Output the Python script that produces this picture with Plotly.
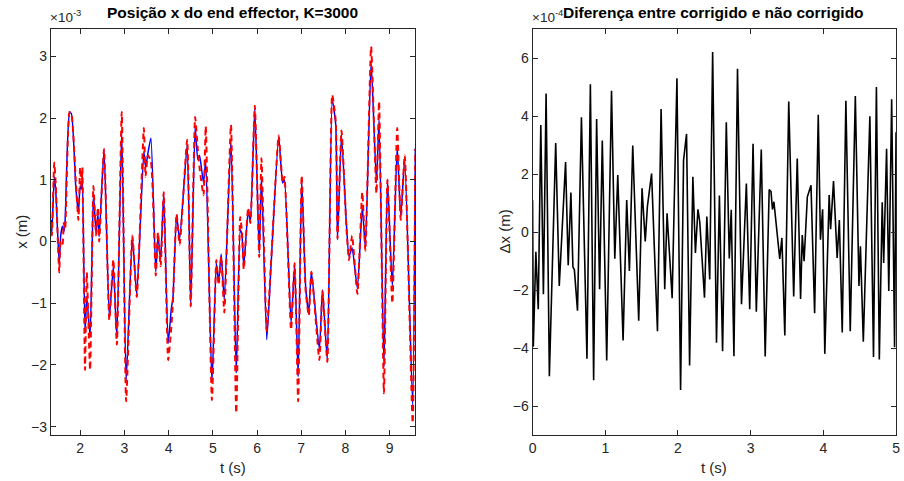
import plotly.graph_objects as go

# ---------------- data (left: x position, units of 1e-3 m) ----------------
t_left = [1.338, 1.36, 1.414, 1.45, 1.527, 1.56, 1.60, 1.63, 1.66, 1.76, 1.80, 1.90, 1.96, 2.00, 2.03, 2.05,
          2.11, 2.15, 2.225, 2.30, 2.36, 2.40, 2.43, 2.54, 2.66, 2.75, 2.83, 2.94, 3.04, 3.18, 3.28, 3.44,
          3.48, 3.53, 3.60, 3.71, 3.76, 3.82, 3.89, 3.99, 4.06, 4.10, 4.18, 4.25, 4.42, 4.50, 4.60, 4.66,
          4.70, 4.79, 4.84, 4.98, 5.08, 5.13, 5.19, 5.26, 5.41, 5.53, 5.62, 5.66, 5.70, 5.80, 5.85, 5.95,
          6.05, 6.10, 6.22, 6.32, 6.49, 6.58, 6.62, 6.77, 6.85, 6.93, 7.01, 7.10, 7.17, 7.23, 7.41, 7.48,
          7.59, 7.70, 7.78, 7.82, 7.91, 8.02, 8.08, 8.15, 8.27, 8.38, 8.45, 8.58, 8.70, 8.76, 8.87, 8.95,
          9.06, 9.17, 9.25, 9.34, 9.52, 9.58]
x_blue = [0.35, 0.14, 1.05, 0.80, -0.38, 0.10, 0.25, 0.15, 0.35, 2.08, 2.08, 0.90, 0.45, 0.90, 0.85, 1.10,
          -1.48, -0.89, -1.54, 0.78, 0.14, 0.45, 0.08, 1.49, -1.24, -0.40, -1.57, 1.81, -2.27, 0.08, -0.86, 1.46,
          1.20, 1.42, 1.68, -0.49, 0.10, -0.30, 0.78, -1.65, -1.10, -0.89, 0.43, 0.03, 1.57, -1.05, 1.86, 1.33,
          1.40, 0.95, 1.33, -2.29, -0.35, -0.65, -0.20, -0.95, 1.65, -2.13, 0.19, 0.10, -0.40, 0.51, 0.30, 2.16,
          -0.19, 1.05, -1.59, -0.35, 1.70, 0.95, 1.00, -1.32, -0.38, -2.19, 1.00, -0.73, -1.15, -0.49, -1.75, -0.78,
          -1.92, 2.30, 1.90, 0.03, 1.73, 0.30, -0.24, -0.10, -0.76, 0.57, -0.10, 2.92, 0.95, 1.97, -2.03, 1.00,
          -0.73, 1.54, 0.40, 1.35, -2.67, 1.51]
x_red = [0.30, 0.10, 1.28, 0.90, -0.50, 0.00, -0.05, 0.30, 0.20, 2.10, 2.08, 1.00, 0.35, 1.20, 0.85, 1.20,
         -2.08, -0.50, -2.08, 0.90, 0.10, 0.55, 0.00, 1.50, -1.27, -0.29, -1.67, 2.10, -2.59, 0.10, -0.90, 1.84,
         1.05, 1.40, 1.30, -0.55, 0.15, -0.40, 0.80, -1.92, -1.40, -0.95, 0.45, -0.05, 1.65, -1.05, 2.02, 1.50,
         1.20, 0.75, 1.87, -2.57, -0.30, -0.70, -0.25, -1.15, 1.89, -2.78, 0.40, 0.15, -0.45, 0.55, 0.30, 2.20,
         -0.25, 1.35, -1.45, -0.30, 1.72, 0.95, 1.05, -1.43, -0.35, -2.59, 1.07, -0.80, -1.20, -0.49, -1.92, -0.80,
         -1.95, 2.38, 1.95, 0.05, 1.80, 0.25, -0.30, 0.10, -0.85, 0.80, -0.15, 3.16, 0.78, 2.27, -2.46, 1.00,
         -1.00, 1.84, 0.35, 1.40, -2.94, 1.50]

# ---------------- data (right: difference, units of 1e-4 m) ----------------
t_right = [0.0, 0.01, 0.045, 0.078, 0.113, 0.149, 0.186, 0.231, 0.318, 0.367, 0.454, 0.49, 0.527, 0.555, 0.575,
           0.618, 0.672, 0.748, 0.795, 0.84, 0.881, 0.922, 0.959, 1.02, 1.086, 1.131, 1.172, 1.245, 1.295, 1.332,
           1.378, 1.46, 1.506, 1.55, 1.58, 1.637, 1.718, 1.768, 1.818, 1.85, 1.92, 1.986, 2.036, 2.077, 2.118,
           2.16, 2.205, 2.24, 2.275, 2.30, 2.365, 2.397, 2.437, 2.477, 2.53, 2.57, 2.614, 2.665, 2.706, 2.733,
           2.77, 2.819, 2.874, 2.941, 2.987, 3.033, 3.078, 3.146, 3.2, 3.255, 3.28, 3.30, 3.32, 3.4, 3.43,
           3.47, 3.524, 3.592, 3.641, 3.687, 3.71, 3.735, 3.78, 3.83, 3.88, 3.93, 3.96, 3.99, 4.02, 4.08,
           4.10, 4.14, 4.19, 4.22, 4.26, 4.31, 4.37, 4.44, 4.49, 4.51, 4.55, 4.64, 4.69, 4.73, 4.77,
           4.81, 4.83, 4.87, 4.90, 4.94, 4.98, 5.0]
dx = [1.1, -3.95, -0.68, -2.66, 3.7, -2.14, 4.78, -4.97, 3.08, -1.86, 2.42, -1.14, 1.37, -1.2, -1.3,
      -2.71, 3.96, -4.37, 5.1, -5.11, 3.9, -1.97, 3.16, -4.43, 4.88, -0.92, 1.97, -3.74, 1.11, -1.34,
      2.99, -3.06, 1.51, -0.32, 0.9, 2.02, -3.42, 4.25, -1.97, 0.65, -2.28, 5.31, -5.45, 2.48, 3.39,
      -4.6, 1.91, -0.72, 0.79, 0.35, -2.26, 0.54, -1.63, 6.22, -3.82, 1.26, -4.11, 3.79, -0.91, 0.77,
      -4.28, 5.64, -2.49, 1.68, -2.66, 3.05, -2.75, 2.85, -4.29, 1.47, 1.4, 0.78, 1.05, -0.92, -0.2,
      -3.57, 4.51, -2.22, 2.54, -2.31, -0.1, -1.0, 1.22, 1.62, -2.8, 4.05, -0.26, 0.79, -4.2, 1.28,
      0.1, 1.76, -0.89, 0.42, -3.46, 4.53, -3.42, 4.7, -1.86, -0.49, -3.78, 4.0, -4.31, 5.01, -4.39,
      1.03, -1.06, 2.88, -2.03, 4.59, -3.97, 3.45]

left_xticks = [2, 3, 4, 5, 6, 7, 8, 9]
left_yticks = [-3, -2, -1, 0, 1, 2, 3]
right_xticks = [0, 1, 2, 3, 4, 5]
right_yticks = [-6, -4, -2, 0, 2, 4, 6]

W, H = 904, 481
FONT = "Liberation Sans, Arial, Helvetica, sans-serif"
AX = "#262626"

fig = go.Figure()
fig.add_trace(go.Scatter(x=t_left, y=x_blue, mode="lines",
                         line=dict(color="#0000FF", width=1.5, shape="spline", smoothing=0.5),
                         xaxis="x", yaxis="y", showlegend=False))
fig.add_trace(go.Scatter(x=t_left, y=x_red, mode="lines",
                         line=dict(color="#FF0000", width=2, dash="6px,4px", shape="spline", smoothing=0.5),
                         xaxis="x", yaxis="y", showlegend=False))
fig.add_trace(go.Scatter(x=t_right, y=dx, mode="lines", line=dict(color="#000000", width=1.6),
                         xaxis="x2", yaxis="y2", showlegend=False))

def px_x(p):
    return p / W

def px_y(p):
    return 1 - p / H

axis_common = dict(showgrid=False, zeroline=False, showline=True, linecolor=AX, linewidth=1,
                   mirror="ticks", ticks="inside", ticklen=5, tickcolor=AX, tickwidth=1,
                   ticklabeloverflow="allow",
                   tickfont=dict(family=FONT, size=14, color=AX))

fig.update_layout(
    width=W, height=H, margin=dict(l=0, r=0, t=0, b=0),
    paper_bgcolor="white", plot_bgcolor="white",
    xaxis=dict(domain=[px_x(47.3), px_x(415)], range=[1.338, 9.58], tickvals=left_xticks,
               anchor="y", **axis_common),
    yaxis=dict(domain=[px_y(435), px_y(29.3)], range=[-3.135, 3.44], tickvals=left_yticks,
               anchor="x", **axis_common),
    xaxis2=dict(domain=[px_x(533.3), px_x(900)], range=[0, 5], tickvals=right_xticks,
                anchor="y2", **axis_common),
    yaxis2=dict(domain=[px_y(435), px_y(29.3)], range=[-7, 7], tickvals=right_yticks,
                anchor="x2", **axis_common),
)

ann = []
def add_text(text, x, y, size=13, bold=False, angle=0, xanchor="center", yanchor="middle", color=AX):
    ann.append(dict(text=("<b>%s</b>" % text) if bold else text, x=px_x(x), y=px_y(y), xref="paper",
                    yref="paper", showarrow=False, textangle=angle, xanchor=xanchor, yanchor=yanchor,
                    font=dict(family=FONT, size=size, color=color)))

add_text("Posição x do end effector, K=3000", 231, 13, size=15.5, bold=True, color="#000000")
add_text("Diferença entre corrigido e não corrigido", 716, 13, size=15.5, bold=True, color="#000000")
add_text("×10<sup>-3</sup>", 44, 16, size=13.5, xanchor="left")
add_text("×10<sup>-4</sup>", 531, 16, size=13.5, xanchor="left")
add_text("t (s)", 231, 467, size=15)
add_text("t (s)", 716, 467, size=15)
add_text("x (m)", 17, 232, size=15, angle=-90)
add_text("Δx (m)", 504, 232, size=15, angle=-90)
fig.update_layout(annotations=ann)

fig.write_html("out.html")
